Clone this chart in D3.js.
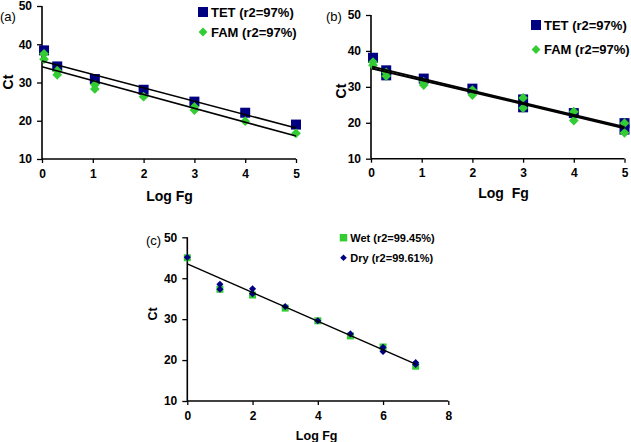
<!DOCTYPE html>
<html><head><meta charset="utf-8">
<script src="https://cdn.jsdelivr.net/npm/d3@7"></script>
<style>
body{margin:0;background:#fff;}
svg text{font-family:"Liberation Sans",Arial,sans-serif;}
</style></head>
<body>
<svg id="chart" width="631" height="442"></svg>
<script>
// ---- Data ----
// Panel (a)
const aTetX = [0.04, 0.3, 1.04, 2, 3, 4, 5];
const aTetY = [38.4, 34.2, 30.9, 28.1, 25.0, 22.1, 19.0];
const aFamX = [0.04, 0.04, 0.3, 0.3, 1.04, 1.04, 2, 3, 3, 4, 5];
const aFamY = [37.5, 36.1, 33.1, 32.0, 29.4, 28.3, 26.3, 23.6, 22.8, 19.9, 16.7];
const aFitIntercept = [35.6, 34.1];
const aFitSlope = [-3.5, -3.62];
// Panel (b)
const bTetX = [0.04, 0.3, 0.3, 1.04, 2, 3, 3, 4, 5, 5];
const bTetY = [38.1, 34.6, 33.2, 32.3, 29.5, 26.5, 24.3, 22.7, 19.9, 18.1];
const bFamX = [0.04, 0.04, 0.3, 0.3, 1.04, 1.04, 2, 2, 3, 3, 4, 4, 5, 5];
const bFamY = [36.9, 36.0, 34.0, 33.0, 31.4, 30.5, 29.1, 27.7, 26.9, 24.1, 23.1, 20.6, 19.9, 17.2];
const bFitIntercept = [35.7, 35.2];
const bFitSlope = [-3.38, -3.34];
// Panel (c)
const cWetX = [0, 1, 2, 3, 4, 5, 6, 7];
const cWetY = [45.0, 37.3, 35.9, 32.7, 29.6, 25.9, 23.2, 18.5];
const cDryX = [0, 1, 1, 2, 2, 3, 4, 5, 6, 6, 7, 7];
const cDryY = [45.1, 38.5, 37.3, 37.4, 36.2, 33.1, 29.6, 26.4, 23.1, 22.1, 19.4, 18.9];
const cFitIntercept = [43.5];
const cFitSlope = [-3.5];
// Labels / ticks
const yTicks = [10, 20, 30, 40, 50];
const xTicksAB = [0, 1, 2, 3, 4, 5];
const xTicksC = [0, 2, 4, 6, 8];
const legendAB = ["TET (r2=97%)", "FAM (r2=97%)"];
const legendC = ["Wet (r2=99.45%)", "Dry (r2=99.61%)"];
const panelLabels = ["(a)", "(b)", "(c)"];

const NAVY = "#000080", GREEN = "#33cc33";
const svg = d3.select("#chart");

function panel(cfg) {
  const g = svg.append("g");
  const x = d3.scaleLinear().domain(cfg.xDomain).range([cfg.left, cfg.right]);
  const y = d3.scaleLinear().domain([10, 50]).range([cfg.bottom, cfg.top]);

  // axes
  const ya = g.append("g").attr("transform", `translate(${cfg.left},0)`)
    .call(d3.axisLeft(y).tickValues(yTicks).tickSize(5).tickPadding(5).tickFormat(d3.format("d")));
  const xa = g.append("g").attr("transform", `translate(0,${cfg.bottom})`)
    .call(d3.axisBottom(x).tickValues(cfg.xTicks).tickSize(4).tickPadding(6).tickFormat(d3.format("d")));
  [ya, xa].forEach(a => {
    a.select(".domain").attr("stroke", "#000").attr("stroke-width", 1.6);
    a.selectAll(".tick line").attr("stroke", "#000").attr("stroke-width", 1.3);
    a.selectAll("text").attr("fill", "#000").style("font-size", cfg.tickFont + "px").style("font-weight", "bold");
  });
  ya.select(".domain").attr("d", `M0,${cfg.bottom}V${cfg.top}`);
  xa.select(".domain").attr("d", `M${cfg.left},0H${cfg.right}`);

  // series
  cfg.series.forEach(s => {
    const pts = s.xs.map((v, i) => [v, s.ys[i]]);
    if (s.shape === "square") {
      g.append("g").selectAll("rect").data(pts).join("rect")
        .attr("x", d => x(d[0]) - s.size / 2).attr("y", d => y(d[1]) - s.size / 2)
        .attr("width", s.size).attr("height", s.size).attr("fill", s.color);
    } else {
      const sym = d3.symbol().type(d3.symbolDiamond2).size(s.size * s.size * 0.5);
      g.append("g").selectAll("path").data(pts).join("path")
        .attr("transform", d => `translate(${x(d[0])},${y(d[1])})`)
        .attr("d", sym).attr("fill", s.color);
    }
  });

  // fit lines
  cfg.fits.intercept.forEach((b, i) => {
    const m = cfg.fits.slope[i];
    g.append("line")
      .attr("x1", x(cfg.fits.range[0])).attr("y1", y(b + m * cfg.fits.range[0]))
      .attr("x2", x(cfg.fits.range[1])).attr("y2", y(b + m * cfg.fits.range[1]))
      .attr("stroke", "#000").attr("stroke-width", cfg.fits.width);
  });

  // legend
  cfg.legend.forEach((t, i) => {
    const lx = cfg.legendX, ly = cfg.legendY + i * cfg.legendStep;
    const s = cfg.series[i];
    if (s.shape === "square") {
      g.append("rect").attr("x", lx - cfg.legendSize / 2).attr("y", ly - cfg.legendSize / 2)
        .attr("width", cfg.legendSize).attr("height", cfg.legendSize).attr("fill", s.color);
    } else {
      g.append("path").attr("transform", `translate(${lx},${ly})`)
        .attr("d", d3.symbol().type(d3.symbolDiamond2).size(cfg.legendSize * cfg.legendSize * 0.5)())
        .attr("fill", s.color);
    }
    g.append("text").attr("x", lx + cfg.legendSize / 2 + 3).attr("y", ly).attr("dy", "0.36em")
      .style("font-size", cfg.legendFont + "px").style("font-weight", "bold").text(t);
  });

  // axis titles
  g.append("text").attr("x", cfg.xTitle[0]).attr("y", cfg.xTitle[1]).attr("text-anchor", "middle")
    .attr("dy", "0.36em").style("font-size", cfg.titleFont + "px").style("font-weight", "bold")
    .style("white-space", "pre").text(cfg.xTitleText);
  g.append("text").attr("transform", `translate(${cfg.yTitle[0]},${cfg.yTitle[1]}) rotate(-90)`)
    .attr("text-anchor", "middle").attr("dy", "0.36em").style("font-size", cfg.titleFont + "px")
    .style("font-weight", "bold").text("Ct");
  // panel label
  g.append("text").attr("x", cfg.label[0]).attr("y", cfg.label[1]).attr("dy", "0.36em")
    .style("font-size", "13px").text(cfg.labelText);
}

panel({
  xDomain: [0, 5], left: 42, right: 296, top: 6, bottom: 159, xTicks: xTicksAB, tickFont: 12,
  series: [
    {xs: aTetX, ys: aTetY, shape: "square", color: NAVY, size: 10},
    {xs: aFamX, ys: aFamY, shape: "diamond", color: GREEN, size: 11}
  ],
  fits: {intercept: aFitIntercept, slope: aFitSlope, range: [0, 5], width: 1.6},
  legend: legendAB, legendX: 203, legendY: 12, legendStep: 20, legendSize: 10, legendFont: 13,
  xTitle: [169.5, 196], xTitleText: "Log Fg", yTitle: [8, 82], titleFont: 14,
  label: [0, 16], labelText: panelLabels[0]
});

panel({
  xDomain: [0, 5], left: 371, right: 624.5, top: 15, bottom: 158.7, xTicks: xTicksAB, tickFont: 12,
  series: [
    {xs: bTetX, ys: bTetY, shape: "square", color: NAVY, size: 10},
    {xs: bFamX, ys: bFamY, shape: "diamond", color: GREEN, size: 11}
  ],
  fits: {intercept: bFitIntercept, slope: bFitSlope, range: [0.02, 5], width: 2},
  legend: legendAB, legendX: 536, legendY: 25, legendStep: 24.5, legendSize: 10, legendFont: 13,
  xTitle: [503.5, 192.5], xTitleText: "Log  Fg", yTitle: [341, 91], titleFont: 14,
  label: [326, 16], labelText: panelLabels[1]
});

panel({
  xDomain: [0, 8], left: 187.3, right: 448.3, top: 237.3, bottom: 401, xTicks: xTicksC, tickFont: 12,
  series: [
    {xs: cWetX, ys: cWetY, shape: "square", color: GREEN, size: 7},
    {xs: cDryX, ys: cDryY, shape: "diamond", color: NAVY, size: 8}
  ],
  fits: {intercept: cFitIntercept, slope: cFitSlope, range: [0, 7], width: 1.4},
  legend: legendC, legendX: 343.5, legendY: 237.7, legendStep: 20, legendSize: 7.5, legendFont: 11,
  xTitle: [316.7, 435.5], xTitleText: "Log Fg", yTitle: [152, 314], titleFont: 12.5,
  label: [146, 240], labelText: panelLabels[2]
});
</script>
</body></html>
